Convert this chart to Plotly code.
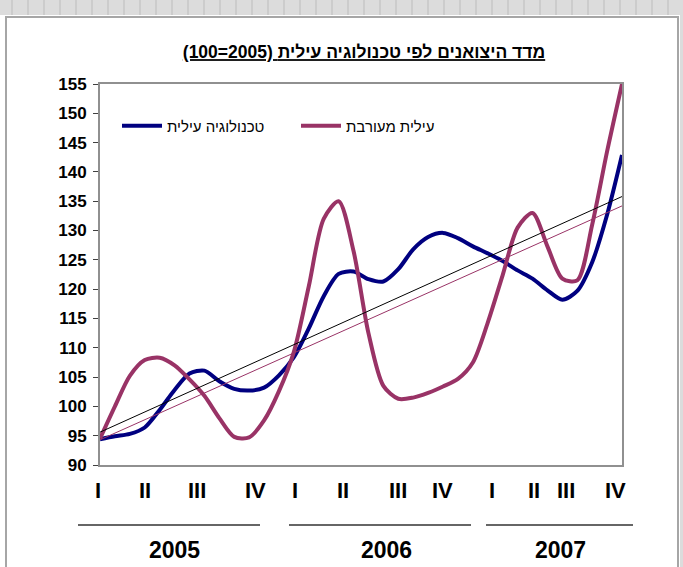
import plotly.graph_objects as go

# months from Jan 2005 (0) to Dec 2007 (35)
months = list(range(36))

high_tech = [94.4, 94.9, 95.3, 96.4, 99.4, 102.8, 105.6, 106.1, 104.3, 103.0,
             102.7, 103.2, 105.3, 108.4, 113.3, 118.8, 122.6, 123.0, 121.7, 121.3,
             123.4, 126.8, 128.9, 129.6, 128.7, 127.3, 126.1, 124.8, 123.2, 121.8,
             119.8, 118.2, 119.7, 124.6, 132.7, 142.9]

mixed_high = [94.5, 100.0, 105.2, 107.9, 108.3, 107.0, 104.6, 101.8, 98.0, 94.8,
              94.7, 97.6, 102.6, 109.3, 120.5, 132.0, 135.0, 126.5, 112.5, 103.5,
              101.3, 101.5, 102.3, 103.4, 104.7, 107.5, 114.3, 122.4, 130.5, 133.0,
              127.3, 121.8, 121.5, 131.0, 143.5, 155.0]

trend_x = [0, 35]
trend_high = [95.6, 135.8]
trend_mixed = [94.3, 134.2]

quarters = ["I", "II", "III", "IV"] * 3
years = ["2005", "2006", "2007"]

names = ["טכנולוגיה עילית", "עילית מעורבת"]
title = "(100=2005) מדד היצואנים לפי טכנולוגיה עילית"

FONT = "Liberation Sans, Arial, sans-serif"
BLUE = "#000080"
PLUM = "#993366"

# plot area in pixels: x 100..622, y 84..465
def px(x):
    return (x - 100) / 522.0

def py(y):
    return (465 - y) / 381.0

fig = go.Figure()
fig.add_trace(go.Scatter(x=months, y=high_tech, mode="lines", name=names[0],
                         line=dict(color=BLUE, width=4, shape="spline", smoothing=0.8)))
fig.add_trace(go.Scatter(x=months, y=mixed_high, mode="lines", name=names[1],
                         line=dict(color=PLUM, width=4, shape="spline", smoothing=0.8)))
fig.add_trace(go.Scatter(x=trend_x, y=trend_high, mode="lines", showlegend=False,
                         line=dict(color="black", width=1), hoverinfo="skip"))
fig.add_trace(go.Scatter(x=trend_x, y=trend_mixed, mode="lines", showlegend=False,
                         line=dict(color=PLUM, width=1), hoverinfo="skip"))

shapes = [
    # white chart box with grey border
    dict(type="rect", xref="paper", yref="paper", layer="below",
         x0=px(6), x1=px(678), y0=py(17), y1=py(575),
         fillcolor="white", line=dict(color="#a6a6a6", width=2)),
    # spreadsheet strip at top and right
    dict(type="rect", xref="paper", yref="paper", layer="below",
         x0=px(0), x1=px(683), y0=py(0), y1=py(15),
         fillcolor="#dcdcdc", line=dict(width=0)),
    dict(type="rect", xref="paper", yref="paper", layer="below",
         x0=px(680), x1=px(683), y0=py(0), y1=py(567),
         fillcolor="#dcdcdc", line=dict(width=0)),
]
for gx in range(12, 683, 16):
    shapes.append(dict(type="line", xref="paper", yref="paper", layer="below",
                       x0=px(gx), x1=px(gx), y0=py(0), y1=py(15),
                       line=dict(color="#bcbcbc", width=1)))
for y0, x0, x1 in [(525, 78, 260), (525, 289, 471), (525, 486, 633)]:
    shapes.append(dict(type="line", xref="paper", yref="paper",
                       x0=px(x0), x1=px(x1), y0=py(y0), y1=py(y0),
                       line=dict(color="#333333", width=1.5)))

annotations = []
q_pos = [98, 145, 197, 255, 295, 343, 398, 442, 492, 534, 566, 615]
for lab, xp in zip(quarters, q_pos):
    annotations.append(dict(text="<b>%s</b>" % lab, xref="paper", yref="paper",
                            x=px(xp), y=py(490), showarrow=False,
                            xanchor="center", yanchor="middle",
                            font=dict(family=FONT, size=22, color="black")))
for lab, xp in zip(years, [174, 386, 560]):
    annotations.append(dict(text="<b>%s</b>" % lab, xref="paper", yref="paper",
                            x=px(xp), y=py(550), showarrow=False,
                            xanchor="center", yanchor="middle",
                            font=dict(family=FONT, size=23, color="black")))

fig.update_layout(
    width=683, height=567,
    margin=dict(l=100, r=61, t=84, b=102),
    paper_bgcolor="white",
    plot_bgcolor="#FFFFCC",
    font=dict(family=FONT, color="black"),
    title=dict(text="<u><b>%s</b></u>" % title, xref="container", x=364 / 683.0,
               xanchor="center", y=1 - 52 / 567.0, yanchor="middle",
               font=dict(family=FONT, size=17.5, color="black")),
    xaxis=dict(range=[0, 35], showticklabels=False, ticks="", showgrid=False,
               zeroline=False, showline=True, linecolor="#909090", linewidth=2,
               mirror=True),
    yaxis=dict(range=[90, 155], dtick=5, tick0=90, showgrid=False, zeroline=False,
               showline=True, linecolor="#909090", linewidth=2, mirror=True,
               ticks="outside", ticklen=5, tickcolor="#404040", ticklabelstandoff=3,
               tickfont=dict(family=FONT, size=17, color="black", weight="bold")),
    legend=dict(orientation="h", x=px(117), y=py(126), xanchor="left",
                yanchor="middle", bgcolor="rgba(0,0,0,0)",
                font=dict(family=FONT, size=15, color="black"),
                entrywidth=124, entrywidthmode="pixels", itemwidth=40),
    shapes=shapes,
    annotations=annotations,
    showlegend=True,
)

fig.write_html("out.html", config={"displayModeBar": False},
               post_script="document.body.style.margin='0';")
